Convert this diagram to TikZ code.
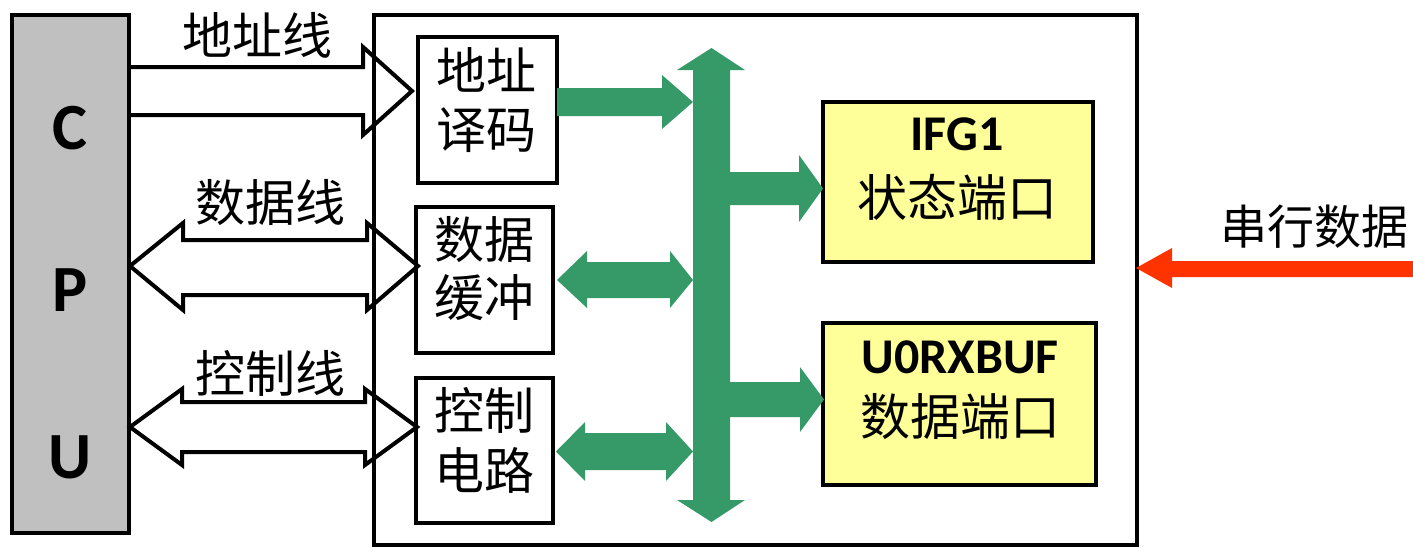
\documentclass[tikz,border=0pt]{standalone}
\usepackage{fontspec}
\setmainfont{Carlito}
\newfontfamily\cjk{Noto Sans CJK SC}
\definecolor{busgreen}{RGB}{53,154,104}
\definecolor{cpugray}{RGB}{192,192,192}
\definecolor{portyellow}{RGB}{255,255,153}
\definecolor{serialred}{RGB}{255,51,0}
\tikzset{
  box/.style={draw=black, line width=2pt, inner sep=0pt},
  hollow/.style={draw=black, line width=2pt, line join=miter},
  greenarrow/.style={fill=busgreen, draw=none},
  redarrow/.style={fill=serialred, draw=none},
  cjktext/.style={font=\cjk\fontsize{25}{30}\selectfont, inner sep=0pt},
  bigletter/.style={font=\bfseries\fontsize{33}{36}\selectfont, inner sep=0pt},
  porttitle/.style={font=\bfseries\fontsize{25}{30}\selectfont, inner sep=0pt},
}
\begin{document}
\begin{tikzpicture}[x=0.5pt, y=-0.5pt]
\useasboundingbox (0,0) rectangle (1413,547);
% boxes
\node[box, fill=cpugray, minimum width=58.5pt, minimum height=259pt] (cpu) at (70.5,274) {};
\node[box, minimum width=381.5pt, minimum height=265pt] (main) at (755.5,280) {};
\node[box, fill=white, minimum width=69.5pt, minimum height=73pt] (addr) at (487.5,110) {};
\node[box, fill=white, minimum width=68.5pt, minimum height=73pt] (buf) at (484.5,280) {};
\node[box, fill=white, minimum width=68.5pt, minimum height=72.5pt] (ctrl) at (484.5,450.5) {};
\node[box, fill=portyellow, minimum width=135pt, minimum height=80pt] (ifg) at (958,182) {};
\node[box, fill=portyellow, minimum width=136.5pt, minimum height=81pt] (urx) at (959.5,404) {};
% CPU letters
\node[bigletter] (cC) at (70,128) {C};
\node[bigletter] (cP) at (70,290) {P};
\node[bigletter] (cU) at (70,457) {U};
% inner box texts
\node[cjktext] (addr1) at (486,70) {地址};
\node[cjktext] (addr2) at (486,130) {译码};
\node[cjktext] (buf1) at (484,240) {数据};
\node[cjktext] (buf2) at (484,298) {缓冲};
\node[cjktext] (ctrl1) at (484,410) {控制};
\node[cjktext] (ctrl2) at (484,470) {电路};
% port texts
\node[porttitle] (ifgt) at (957,134) {IFG1};
\node[cjktext] (ifgc) at (957,197) {状态端口};
\node[porttitle] (urxt) at (960,357) {U0RXBUF};
\node[cjktext] (urxc) at (960,417) {数据端口};
% bus labels
\node[cjktext] (lab1) at (257,35) {地址线};
\node[cjktext] (lab2) at (270,203) {数据线};
\node[cjktext] (lab3) at (270,373) {控制线};
\node[cjktext, font=\cjk\fontsize{23.5}{28}\selectfont, anchor=east] (lab4) at (1409,227) {串行数据};
% hollow arrows CPU side
\draw[hollow] (130,67) -- (363,67) -- (363,47) -- (412,91) -- (363,135) -- (363,115) -- (130,115);
\draw[hollow] (130,266) -- (183,223) -- (183,240) -- (367,240) -- (367,223) -- (418,266)
  -- (367,310) -- (367,295) -- (183,295) -- (183,310) -- cycle;
\draw[hollow] (130,427) -- (182,389) -- (182,402) -- (365,402) -- (365,389) -- (417,427)
  -- (365,465) -- (365,452) -- (182,452) -- (182,465) -- cycle;
% green bus
\fill[greenarrow] (711.5,48) -- (745,70) -- (730,70) -- (730,500) -- (745,500) -- (711.5,522)
  -- (677,500) -- (693,500) -- (693,70) -- (677,70) -- cycle;
\fill[greenarrow] (557,88) -- (662,88) -- (662,75) -- (693,102) -- (662,129) -- (662,116) -- (557,116) -- cycle;
\fill[greenarrow] (557,280) -- (587,251) -- (587,262) -- (670,262) -- (670,251) -- (693,280)
  -- (670,308) -- (670,298) -- (587,298) -- (587,308) -- cycle;
\fill[greenarrow] (556,451.5) -- (585,422) -- (585,433) -- (666,433) -- (666,422) -- (693,451.5)
  -- (666,481) -- (666,470) -- (585,470) -- (585,481) -- cycle;
\fill[greenarrow] (729,172) -- (799,172) -- (799,155) -- (823,188.5) -- (799,222) -- (799,205) -- (729,205) -- cycle;
\fill[greenarrow] (729,382) -- (800,382) -- (800,367) -- (824,399.5) -- (800,432) -- (800,417) -- (729,417) -- cycle;
% serial data arrow
\fill[redarrow] (1413,261) -- (1172,261) -- (1172,248) -- (1136,268) -- (1172,288) -- (1172,277) -- (1413,277) -- cycle;
\end{tikzpicture}
\end{document}
